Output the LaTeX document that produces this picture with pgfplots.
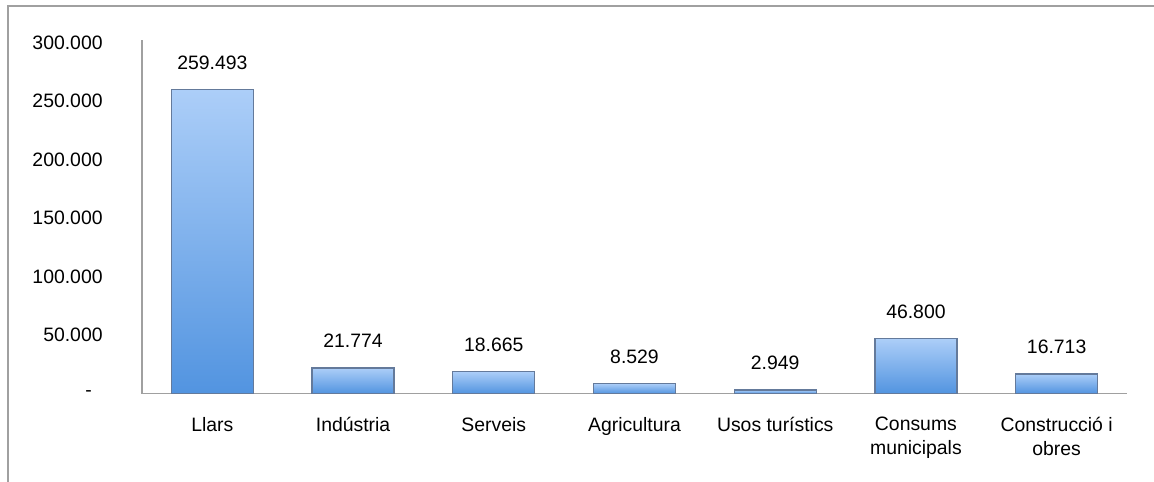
\documentclass[border=0pt]{standalone}
\usepackage{pgfplots}
\pgfplotsset{compat=1.18}
\usepackage{fontspec}
\setmainfont{Liberation Sans}
\definecolor{barTop}{RGB}{172,206,248}
\definecolor{barBot}{RGB}{82,148,224}
\definecolor{barEdge}{RGB}{100,122,155}
\definecolor{frameGray}{RGB}{160,160,160}
\pgfplotsset{onebar/.style={draw=barEdge, line width=0.6pt, top color=barTop, bottom color=barBot, bar shift=0pt}}
\begin{document}
\fontsize{9.7}{12}\selectfont
\begin{tikzpicture}
\useasboundingbox (-71pt,-43.75pt) rectangle (506pt,196.75pt);
\draw[frameGray, line width=1pt] (-67pt,-50pt) -- (-67pt,193.9pt) -- (520pt,193.9pt);
\begin{axis}[
  at={(0,0)}, anchor=south west,
  scale only axis, width=492.5pt, height=176.75pt,
  ymin=0, ymax=302137,
  xmin=-0.5, xmax=6.5,
  axis x line*=bottom, axis y line*=left,
  axis line style={frameGray, line width=0.9pt, -},
  major tick length=0pt,
  scaled y ticks=false,
  ytick={0,50000,100000,150000,200000,250000,300000},
  yticklabels={-\hphantom{0},50.000,100.000,150.000,200.000,250.000,300.000},
  yticklabel style={anchor=east, inner sep=0pt, xshift=-19.5pt},
  xtick={0,...,6},
  xticklabels={Llars,Indústria,Serveis,Agricultura,Usos turístics,Consums\\municipals,Construcció i\\obres},
  xticklabel style={anchor=north, inner sep=0pt, yshift=-11.75pt, align=center},
  ybar, bar width=41pt,
  nodes near coords,
  every node near coord/.append style={anchor=south, inner sep=0pt, yshift=9.8pt, text=black,
    /pgf/number format/.cd, fixed, precision=0, 1000 sep={.}, assume math mode=true},
  clip=false,
]
\addplot[onebar] coordinates {(0,259493)};
\addplot[onebar] coordinates {(1,21774)};
\addplot[onebar] coordinates {(2,18665)};
\addplot[onebar] coordinates {(3,8529)};
\addplot[onebar] coordinates {(4,2949)};
\addplot[onebar] coordinates {(5,46800)};
\addplot[onebar] coordinates {(6,16713)};
\end{axis}
\end{tikzpicture}
\end{document}
